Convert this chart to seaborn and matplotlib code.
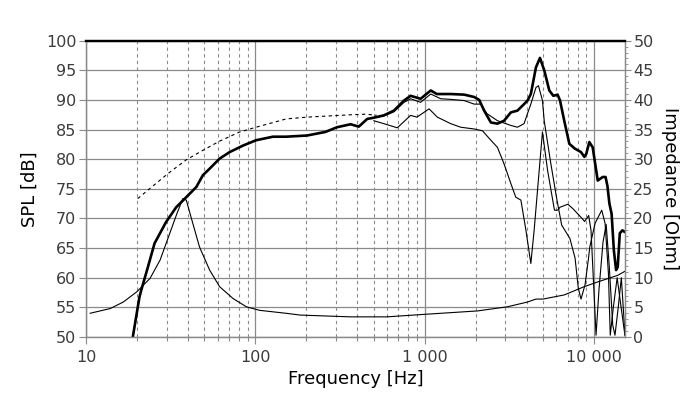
import numpy as np
import pandas as pd
import matplotlib
matplotlib.use("Agg")
import matplotlib.pyplot as plt
import matplotlib.ticker as mticker
import seaborn as sns

# ---- data ----
spl0_f = [18.9, 20.7, 21.2, 23.2, 25.4, 29.7, 34.1, 39.1, 44.8, 49.0, 53.7, 61.5, 70.5, 84.5, 101, 127, 152,
          202, 259, 304, 365, 408, 458, 500, 574, 658, 755, 826, 946, 1086, 1180, 1425, 1710, 1960, 2100,
          2244, 2460, 2690, 2944, 3228, 3530, 3864, 4047, 4236, 4540, 4797, 5083, 5444, 5750, 6097, 6300,
          6671, 7150, 7700, 8377, 8770, 9000, 9380, 9822, 10520, 11260, 11700, 12000, 12330, 12700, 13100,
          13500, 13800, 14200, 14700, 15240]
spl0_db = [50.0, 56.8, 57.9, 61.8, 65.8, 69.4, 71.9, 73.6, 75.3, 77.3, 78.4, 80.1, 81.2, 82.3, 83.2, 83.8, 83.8,
           84.0, 84.6, 85.4, 85.9, 85.5, 86.8, 87.0, 87.4, 88.2, 89.9, 90.7, 90.2, 91.6, 91.0, 91.0, 90.9, 90.5, 90.0,
           88.2, 86.2, 86.0, 86.5, 87.9, 88.2, 89.3, 89.9, 91.0, 95.5, 97.1, 95.0, 91.6, 90.7, 90.9, 89.9,
           86.5, 82.6, 81.8, 81.2, 80.4, 80.9, 82.9, 82.0, 76.4, 77.0, 77.0, 75.5, 72.5, 70.8, 64.6,
           61.3, 61.8, 67.5, 68.0, 67.7]

spl30_f = [500, 574, 658, 755, 826, 946, 1086, 1245, 1425, 1710, 1960, 2144, 2330, 2690, 3228, 3530, 3864,
           4047, 4236, 4540, 4700, 4960, 5080, 5520, 6000, 6440, 7210, 7730, 8080, 8380, 8850, 9280, 9440,
           10150, 11110, 11620, 12160, 12470, 13000, 13700, 14300, 15240]
spl30_db = [87.0, 87.3, 88.0, 89.6, 90.2, 89.6, 91.0, 90.2, 90.1, 89.9, 89.3, 89.3, 87.7, 86.5, 85.7, 85.4, 86.0,
            87.7, 89.3, 92.1, 92.4, 89.9, 86.5, 79.8, 73.6, 68.9, 66.6, 63.3, 58.2, 56.4, 58.8, 63.3, 65.2,
            69.2, 71.4, 69.2, 60.8, 50.3, 55.0, 60.0, 56.0, 50.2]

spl60_f = [500, 574, 689, 826, 900, 1062, 1188, 1425, 1633, 1960, 2194, 2460, 2690, 2944, 3228, 3450, 3700,
           3963, 4236, 4430, 4700, 4960, 5320, 5840, 6100, 6300, 7000, 7480, 8380, 8800, 9300, 9600, 10280,
           10700, 11300, 11800, 12300, 12900, 13300, 13900, 14500, 15240]
spl60_db = [86.5, 86.0, 85.3, 87.4, 87.1, 88.5, 87.1, 86.0, 85.4, 85.1, 84.8, 83.2, 82.0, 79.2, 75.9, 73.6, 73.1,
            68.0, 62.4, 68.0, 76.7, 84.6, 78.1, 71.4, 71.4, 71.9, 72.4, 71.7, 70.2, 69.5, 70.5, 68.0, 50.3,
            58.0, 66.0, 69.0, 62.0, 52.0, 50.3, 55.0, 60.0, 50.3]

dash_f = [20.2, 23.7, 30.4, 39.1, 49, 61.5, 80.8, 101, 152, 202, 365, 450, 520]
dash_db = [73.35, 75.0, 77.55, 79.9, 81.5, 83.05, 84.6, 85.4, 86.8, 87.1, 87.5, 87.6, 87.4]

imp_f = [10.56, 13.9, 16.6, 19.9, 23.9, 27.4, 30.7, 34.4, 37.3, 39.1, 42.8, 46.8, 53.7, 61.5, 73.8, 88.5,
         106, 152, 184, 365, 600, 968, 2052, 3082, 4047, 4540, 5000, 6671, 8770, 10520, 13800, 15240]
imp_ohm = [4.0, 4.8, 5.9, 7.6, 9.9, 13.0, 16.9, 20.8, 23.35, 23.1, 19.1, 15.2, 11.3, 8.5, 6.5, 5.1,
           4.5, 4.0, 3.7, 3.4, 3.4, 3.8, 4.4, 5.1, 5.9, 6.4, 6.4, 7.1, 8.5, 9.3, 10.4, 11.1]

major_ticks = [10, 100, 1000, 10000]
major_labels = ["10", "100", "1 000", "10 000"]
spl_ticks = list(range(50, 101, 5))
imp_ticks = list(range(0, 51, 5))

# ---- style ----
sns.set_theme(style="white")
plt.rcParams['font.family'] = ['DejaVu Sans']

grid_c = "#8a8a8a"
tick_c = "#3c3c3c"

fig = plt.figure(figsize=(7.0, 3.99), dpi=100)
ax = fig.add_axes([86/700, 1-337/399, (625-86)/700, (337-40.7)/399])
ax2 = ax.twinx()

ax.set_xscale("log")
ax.set_xlim(10, 15240)
ax.set_ylim(50, 100)
ax2.set_ylim(0, 50)

ax.xaxis.set_major_locator(mticker.FixedLocator(major_ticks))
ax.xaxis.set_major_formatter(mticker.FixedFormatter(major_labels))
ax.xaxis.set_minor_locator(mticker.LogLocator(base=10, subs=range(2, 10), numticks=20))
ax.xaxis.set_minor_formatter(mticker.NullFormatter())
ax.set_yticks(spl_ticks)
ax2.set_yticks(imp_ticks)
ax2.yaxis.set_minor_locator(mticker.MultipleLocator(1))

ax.grid(which="major", axis="both", color=grid_c, lw=0.9, ls="-")
ax.grid(which="minor", axis="x", color=grid_c, lw=0.8, ls=(0, (3, 3)))
ax.set_axisbelow(True)

# curves
sns.lineplot(x=dash_f, y=dash_db, ax=ax, color="black", lw=0.8, ls=(0, (3, 3)), sort=False, estimator=None)
sns.lineplot(x=spl60_f, y=spl60_db, ax=ax, color="black", lw=0.8, sort=False, estimator=None)
sns.lineplot(x=spl30_f, y=spl30_db, ax=ax, color="black", lw=0.8, sort=False, estimator=None)
sns.lineplot(x=spl0_f, y=spl0_db, ax=ax, color="black", lw=1.9, sort=False, estimator=None)
sns.lineplot(x=imp_f, y=imp_ohm, ax=ax2, color="black", lw=0.8, sort=False, estimator=None)
ax.set_xlim(10, 15240)
ax.set_ylim(50, 100)
ax2.set_ylim(0, 50)

for a in (ax, ax2):
    for s in ("left", "right", "bottom"):
        a.spines[s].set_color(grid_c)
        a.spines[s].set_linewidth(0.9)
    a.spines["top"].set_color("black")
    a.spines["top"].set_linewidth(1.6)

ax.tick_params(axis="both", which="major", labelsize=11.5, colors=grid_c, labelcolor=tick_c,
               length=5, width=0.8, direction="out", pad=2, bottom=True, left=True)
ax.tick_params(axis="x", which="minor", length=3, width=0.8, colors=grid_c, bottom=True)
ax2.tick_params(axis="y", which="major", labelsize=11.5, colors=grid_c, labelcolor=tick_c,
                length=4, width=0.8, direction="out", pad=2, right=True)
ax2.tick_params(axis="y", which="minor", length=2, width=0.6, colors=grid_c, right=True)
ax.tick_params(axis="x", which="major", pad=4)

ax.set_xlabel("Frequency [Hz]", fontsize=13, color="black", labelpad=4)
ax.set_ylabel("SPL [dB]", fontsize=13, color="black", labelpad=5)
ax2.set_ylabel("Impedance [Ohm]", fontsize=13, color="black", rotation=270, labelpad=18)

fig.savefig("out.png", dpi=100)
